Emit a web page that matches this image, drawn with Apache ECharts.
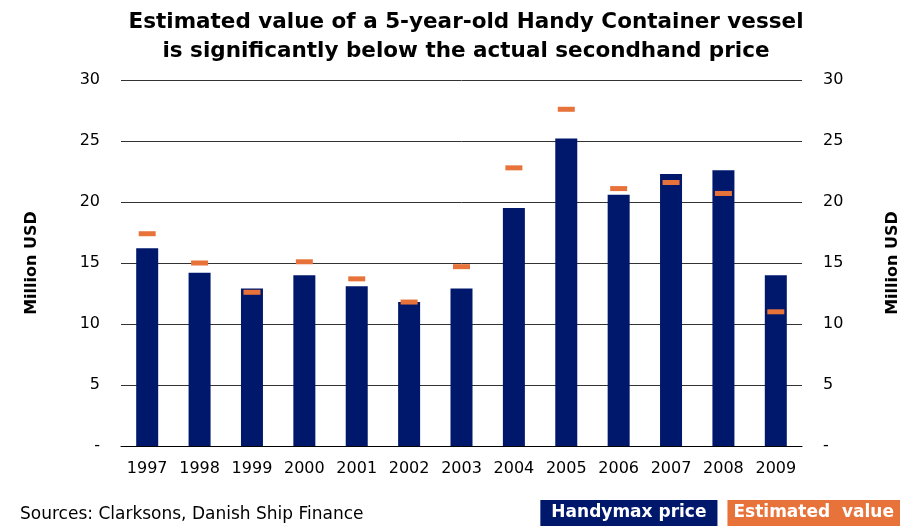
<!DOCTYPE html>
<html>
<head>
<meta charset="utf-8">
<script src="https://cdn.jsdelivr.net/npm/echarts@6/dist/echarts.min.js"></script>
<style>
  html, body { margin: 0; padding: 0; background: #fff; }
  #chart { width: 910px; height: 526px; }
</style>
</head>
<body>
<div id="chart"></div>
<script>
  // data
  var years = ['1997', '1998', '1999', '2000', '2001', '2002', '2003', '2004', '2005', '2006', '2007', '2008', '2009']
  var handymaxPrice = [16.2, 14.2, 12.9, 14.0, 13.1, 11.8, 12.9, 19.5, 25.2, 20.6, 22.3, 22.6, 14.0]
  var estimatedValue = [17.4, 15.0, 12.6, 15.1, 13.7, 11.8, 14.7, 22.8, 27.6, 21.1, 21.6, 20.7, 11.0]

  var navy = '#00186c'
  var orange = '#e8733a'
  var font = 'DejaVu Sans'

  var chart = echarts.init(document.getElementById('chart'))

  // y axis, same on both sides
  function valueAxis (pos) {
    return {
      type: 'value',
      position: pos,
      min: 0,
      max: 30,
      interval: 5,
      name: 'Million USD',
      nameLocation: 'middle',
      nameGap: pos === 'left' ? 81 : 83,
      nameRotate: 90,
      nameTextStyle: { fontFamily: font, fontSize: 16, fontWeight: 'bold', color: '#000' },
      axisLine: { show: false },
      axisTick: { show: false },
      axisLabel: {
        margin: 21,
        fontFamily: font,
        fontSize: 16,
        color: '#000',
        formatter: function (v) { return v === 0 ? '-' : v }
      },
      splitLine: { show: pos === 'left', lineStyle: { color: '#333', width: 1 } }
    }
  }

  var option = {
    backgroundColor: '#fff',
    animation: false,
    title: {
      text: 'Estimated value of a 5-year-old Handy Container vessel\nis significantly below the actual secondhand price',
      left: 461,
      textAlign: 'center',
      top: 3,
      textStyle: { fontFamily: font, fontSize: 21.5, fontWeight: 'bold', color: '#000', lineHeight: 29 }
    },
    legend: {
      right: 10,
      bottom: 0,
      padding: 0,
      itemGap: 5,
      itemWidth: 0,
      itemHeight: 0,
      icon: 'rect',
      selectedMode: false,
      data: [
        { name: 'Handymax price', textStyle: { backgroundColor: navy, color: '#fff', fontFamily: font, fontSize: 17, fontWeight: 'bold', padding: [5, 11, 4, 11] } },
        { name: 'Estimated  value', textStyle: { backgroundColor: orange, color: '#fff', fontFamily: font, fontSize: 17, fontWeight: 'bold', padding: [5, 6, 4, 6] } }
      ]
    },
    graphic: [
      {
        type: 'text',
        left: 20,
        top: 506,
        style: { text: 'Sources: Clarksons, Danish Ship Finance', fontFamily: font, fontSize: 17, fill: '#000' }
      }
    ],
    grid: { left: 121, right: 108, top: 80, bottom: 80 },
    xAxis: {
      type: 'category',
      data: years,
      axisLine: { lineStyle: { color: '#000', width: 1 } },
      axisTick: { show: false },
      axisLabel: { interval: 0, margin: 15, fontFamily: font, fontSize: 16, color: '#000' }
    },
    yAxis: [valueAxis('left'), valueAxis('right')],
    series: [
      {
        name: 'Handymax price',
        type: 'bar',
        barWidth: '42%',
        itemStyle: { color: navy },
        data: handymaxPrice
      },
      {
        name: 'Estimated  value',
        type: 'scatter',
        symbol: 'rect',
        symbolSize: [17, 5],
        itemStyle: { color: orange, opacity: 1 },
        z: 5,
        data: estimatedValue
      }
    ]
  }

  chart.setOption(option)
</script>
</body>
</html>
